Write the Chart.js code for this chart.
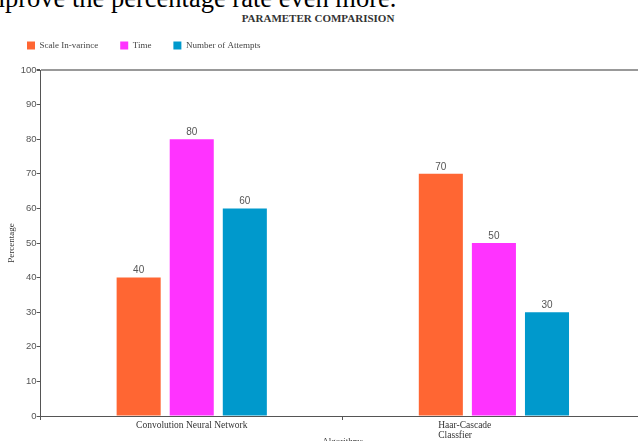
<!DOCTYPE html>
<html>
<head>
<meta charset="utf-8">
<script src="https://cdn.jsdelivr.net/npm/chart.js@4.4.0/dist/chart.umd.min.js"></script>
<style>
  html, body { margin: 0; padding: 0; background: #fff; overflow: hidden; width: 638px; height: 441px; }
  #wrap { position: relative; width: 638px; height: 441px; overflow: hidden; }
  #cut { position: absolute; left: -23px; top: -15px; font-family: "Liberation Serif", "Times New Roman", serif; font-size: 26.5px; line-height: 27px; color: #000; white-space: nowrap; }
  #ttl { position: absolute; left: 0; width: 636px; top: 12px; text-align: center; font-family: "Liberation Serif", serif; font-weight: bold; font-size: 11px; line-height: 12px; color: #333; white-space: nowrap; }
  canvas { position: absolute; left: 0; top: 0; }
</style>
</head>
<body>
<div id="wrap">
  <div id="cut">improve the percentage rate even more.</div>
  <div id="ttl">PARAMETER COMPARISION</div>
  <canvas id="c" width="645" height="446"></canvas>
</div>
<script>
const categories = [["Convolution Neural Network"], ["Haar-Cascade", "Classfier"]];
const seriesNames = ["Scale In-varince", "Time", "Number of Attempts"];
const scaleInvariance = [40, 70];
const timeValues = [80, 50];
const attempts = [60, 30];
const yTicks = [0, 10, 20, 30, 40, 50, 60, 70, 80, 90, 100];
const xTitle = "Algorithms";
const colors = ["#FF6633", "#FF33FF", "#0099CC"];

const SERIF = '"Liberation Serif", "Times New Roman", serif';
const SANS = '"Liberation Sans", Arial, sans-serif';

const legendSpacer = {
  id: 'legendSpacer',
  beforeLayout(chart) {
    const lg = chart.legend;
    if (lg && !lg._spaced) {
      const f = lg.fit;
      lg.fit = function () { f.call(this); this.height += 10; };
      lg._spaced = true;
    }
  }
};

const overlayText = {
  id: 'overlayText',
  afterDatasetsDraw(chart) {
    const ctx = chart.ctx;
    ctx.save();
    // value labels above bars
    ctx.font = '10px ' + SANS;
    ctx.fillStyle = '#555';
    ctx.textAlign = 'center';
    ctx.textBaseline = 'bottom';
    chart.data.datasets.forEach((ds, i) => {
      chart.getDatasetMeta(i).data.forEach((bar, j) => {
        ctx.fillText(String(ds.data[j]), bar.x, bar.y - 2);
      });
    });
    // category labels: wrapped inside a common-width box centred on the tick, lines left-aligned
    const xs = chart.scales.x;
    ctx.font = '9.5px ' + SERIF;
    ctx.fillStyle = '#333';
    ctx.textBaseline = 'middle';
    ctx.textAlign = 'left';
    const boxW = Math.max(...chart.data.labels.map(l => ctx.measureText(l.join(' ')).width));
    chart.data.labels.forEach((lines, i) => {
      const cx = xs.getPixelForValue(i);
      const left = cx - boxW / 2;
      lines.forEach((ln, k) => {
        ctx.fillText(ln, left, xs.top + 9 + k * 10);
      });
    });
    // axis title
    ctx.font = '9px ' + SERIF;
    ctx.textAlign = 'center';
    ctx.textBaseline = 'top';
    ctx.fillText(xTitle, (chart.chartArea.left + chart.chartArea.right) / 2, xs.top + 21);
    ctx.restore();
  }
};

new Chart(document.getElementById('c'), {
  type: 'bar',
  data: {
    labels: categories,
    datasets: [
      { label: seriesNames[0], data: scaleInvariance, backgroundColor: colors[0] },
      { label: seriesNames[1], data: timeValues, backgroundColor: colors[1] },
      { label: seriesNames[2], data: attempts, backgroundColor: colors[2] }
    ]
  },
  options: {
    responsive: false,
    animation: false,
    devicePixelRatio: 1,
    layout: { padding: { top: 19, left: 5, right: 0, bottom: 0 } },
    categoryPercentage: 0.527,
    barPercentage: 0.83,
    plugins: {
      legend: {
        position: 'top',
        align: 'start',
        labels: {
          boxWidth: 8, boxHeight: 8, padding: 22,
          color: '#444',
          font: { family: SERIF, size: 9 }
        }
      },
      title: { display: false },
      tooltip: { enabled: false }
    },
    scales: {
      x: {
        grid: { offset: true, drawOnChartArea: false, tickLength: 4, tickColor: '#555' },
        border: { color: '#555', width: 1 },
        ticks: { color: 'rgba(0,0,0,0)', font: { family: SERIF, size: 10, lineHeight: 1.0 }, padding: 3, maxRotation: 0 }
      },
      y: {
        min: 0, max: 100,
        afterBuildTicks(axis) { axis.ticks = yTicks.map(v => ({ value: v })); },
        grid: {
          tickLength: 4, tickColor: '#555',
          color: ctx => (ctx.tick && ctx.tick.value === 100) ? '#999' : 'rgba(0,0,0,0)',
          lineWidth: ctx => (ctx.tick && ctx.tick.value === 100) ? 2 : 1
        },
        border: { color: '#555', width: 1 },
        ticks: { color: '#555', font: { family: SANS, size: 9.5 }, padding: 0 },
        title: { display: true, text: 'Percentage', color: '#333', font: { family: SERIF, size: 9 }, padding: { top: 1, bottom: 4 } }
      }
    }
  },
  plugins: [legendSpacer, overlayText]
});
</script>
</body>
</html>
